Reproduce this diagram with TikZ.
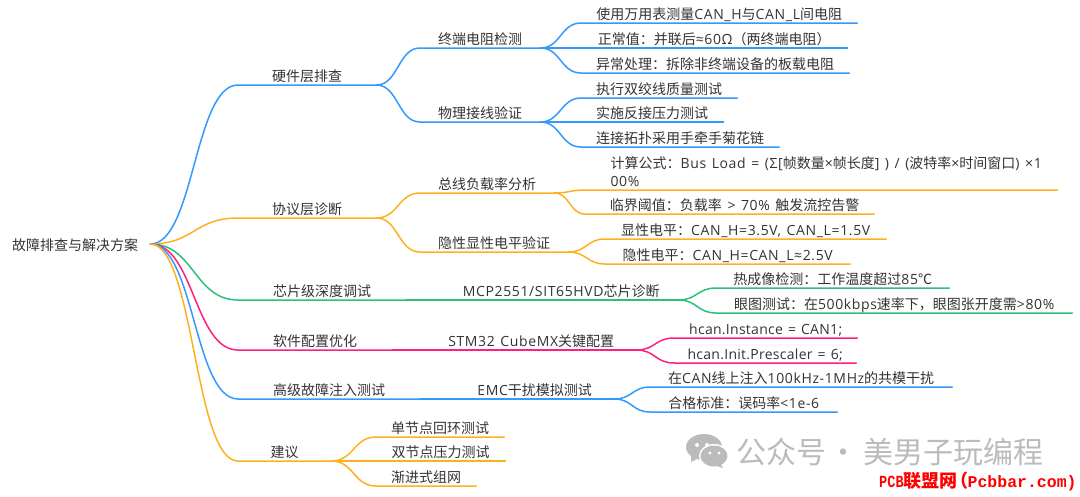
\documentclass[tikz,border=0pt]{standalone}
\usepackage{fontspec}
\setmainfont{Noto Sans CJK SC}
\newfontfamily\pcbfont{Liberation Mono}
\newfontfamily\pcbnarrow[FakeStretch=0.8]{Liberation Mono}
\newfontfamily\latinfont[LetterSpace=4.5,WordSpace=1.3]{Open Sans}
\newfontfamily\codefont[LetterSpace=2,WordSpace=1.3]{Open Sans}
\newcommand{\lat}[1]{{\latinfont #1}}
\usetikzlibrary{calc}
\definecolor{linkblue}{HTML}{3399FF}
\definecolor{linkorange}{HTML}{FFB020}
\definecolor{linkgreen}{HTML}{2CC07C}
\definecolor{linkpink}{HTML}{FF1F7D}
\definecolor{markgray}{HTML}{BBBBBB}
\tikzstyle{topic}=[anchor=south west,inner xsep=0pt,inner ysep=0pt,text depth=3.5pt,align=center,font=\fontsize{14}{17.5}\selectfont,text=black!80]
\tikzstyle{link}=[line width=1.5pt,line cap=round,to path={let \p1=(\tikztostart),\p2=(\tikztotarget) in .. controls (\x1/2+\x2/2,\y1) and (\x1/2+\x2/2,\y2) .. (\tikztotarget)}]

\begin{document}
\begin{tikzpicture}[x=1pt,y=-1pt]
        \useasboundingbox (0,0) rectangle (1080,496);
        \tikzset{blue/.style = {link,draw=linkblue}, orange/.style = {link,draw=linkorange},
                 green/.style = {link,draw=linkgreen}, pink/.style = {link,draw=linkpink}}
        \node[topic,anchor=west,text height=13pt,text depth=0pt,minimum width=150pt] (root) at (0,244) {故障排查与解决方案};
        % first level
        \node[topic,minimum width=138pt] (hard) at (238,85) {硬件层排查};
        \node[topic,minimum width=138pt] (proto) at (238,218) {协议层诊断};
        \node[topic,minimum width=168pt] (chip) at (238,300) {芯片级深度调试};
        \node[topic,minimum width=154pt] (soft) at (238,350) {软件配置优化};
        \node[topic,minimum width=182pt] (adv) at (238,399) {高级故障注入测试};
        \node[topic,minimum width=93pt] (adv2) at (238,461) {建议};
        % second level
        \node[topic,minimum width=120pt] (term) at (420,48) {终端电阻检测};
        \node[topic,minimum width=120pt] (wire) at (420,122) {物理接线验证};
        \node[topic,minimum width=134pt] (load) at (420,193) {总线负载率分析};
        \node[topic,minimum width=148pt] (level) at (420,252) {隐性显性电平验证};
        \node[topic,minimum width=234pt] (mcp) at (444,300) {\lat{MCP2551/SIT65HVD}芯片诊断};
        \node[topic,minimum width=210pt] (stm) at (426,350) {\lat{STM32 CubeMX}关键配置};
        \node[topic,minimum width=159pt] (emc) at (455,399) {\lat{EMC}干扰模拟测试};
        \node[topic,minimum width=128pt] (single) at (376,437) {单节点回环测试};
        \node[topic,minimum width=129pt] (dual) at (376,461) {双节点压力测试};
        \node[topic,minimum width=100pt] (grad) at (376,486) {渐进式组网};
        % leaves
        \node[topic,minimum width=276pt] (meter) at (581,23) {使用万用表测量\lat{CAN\_H}与\lat{CAN\_L}间电阻};
        \node[topic,minimum width=266pt] (normal) at (581,48) {正常值：并联后\lat{≈60Ω}（两终端电阻）};
        \node[topic,minimum width=268pt] (abnormal) at (581,73) {异常处理：拆除非终端设备的板载电阻};
        \node[topic,minimum width=156pt] (twist) at (581,98) {执行双绞线质量测试};
        \node[topic,minimum width=142pt] (reverse) at (581,122) {实施反接压力测试};
        \node[topic,minimum width=198pt] (chain) at (581,147) {连接拓扑采用手牵手菊花链};
        \node[topic,minimum width=472pt,align=left] (calc) at (585,190) {\hspace*{10pt}计算公式：\lat{Bus Load = (Σ[}帧数量\lat{×}帧长度\lat{] ) / (}波特率\lat{×}时间窗口\lat{) ×1}\\\hspace*{10pt}\lat{00\%}};
        \node[topic,minimum width=289pt] (limit) at (585,214) {\hspace*{10pt}临界阈值：负载率\lat{ > 70\% }触发流控告警};
        \node[topic,minimum width=281pt] (dom) at (605,239) {显性电平：\lat{CAN\_H=3.5V, CAN\_L=1.5V}};
        \node[topic,minimum width=245pt] (rec) at (605,264) {隐性电平：\lat{CAN\_H=CAN\_L≈2.5V}};
        \node[topic,minimum width=233pt] (thermal) at (716,288) {热成像检测：工作温度超过\lat{85}℃};
        \node[topic,minimum width=356pt] (eye) at (716,313) {眼图测试：在\lat{500kbps}速率下，眼图张开度需\lat{>80\%}};
        \node[topic,minimum width=183pt] (inst) at (674,338) {{\codefont hcan.Instance = CAN1;}};
        \node[topic,minimum width=182pt] (presc) at (674,363) {{\codefont hcan.Init.Prescaler = 6;}};
        \node[topic,minimum width=302pt] (inject) at (650,387) {在\lat{CAN}线上注入\lat{100kHz-1MHz}的共模干扰};
        \node[topic,minimum width=187pt] (pass) at (650,412) {合格标准：误码率\lat{<1e-6}};
        % root links
        \draw[blue] (root.east) to (hard.south west) -- (hard.south east);
        \draw[orange] (root.east) to (proto.south west) -- (proto.south east);
        \draw[green] (root.east) to (chip.south west) -- (chip.south east);
        \draw[pink] (root.east) to (soft.south west) -- (soft.south east);
        \draw[blue] (root.east) to (adv.south west) -- (adv.south east);
        \draw[orange] (root.east) to (adv2.south west) -- (adv2.south east);
        % branch links
        \draw[blue] (hard.south east) to (term.south west) -- (term.south east);
        \draw[blue] (hard.south east) to (wire.south west) -- (wire.south east);
        \draw[orange] (proto.south east) to (load.south west) -- (load.south east);
        \draw[orange] (proto.south east) to (level.south west) -- (level.south east);
        \draw[green] (chip.south east) -- (mcp.south west) -- (mcp.south east);
        \draw[pink] (soft.south east) -- (stm.south west) -- (stm.south east);
        \draw[blue] (adv.south east) -- (emc.south west) -- (emc.south east);
        \draw[orange] (adv2.south east) to (single.south west) -- (single.south east);
        \draw[orange] (adv2.south east) to (dual.south west) -- (dual.south east);
        \draw[orange] (adv2.south east) to (grad.south west) -- (grad.south east);
        % leaf links
        \draw[blue] (term.south east) to (meter.south west) -- (meter.south east);
        \draw[blue] (term.south east) to (normal.south west) -- (normal.south east);
        \draw[blue] (term.south east) to (abnormal.south west) -- (abnormal.south east);
        \draw[blue] (wire.south east) to (twist.south west) -- (twist.south east);
        \draw[blue] (wire.south east) to (reverse.south west) -- (reverse.south east);
        \draw[blue] (wire.south east) to (chain.south west) -- (chain.south east);
        \draw[orange] (load.south east) to (calc.south west) -- (calc.south east);
        \draw[orange] (load.south east) to (limit.south west) -- (limit.south east);
        \draw[orange] (level.south east) to (dom.south west) -- (dom.south east);
        \draw[orange] (level.south east) to (rec.south west) -- (rec.south east);
        \draw[green] (mcp.south east) to (thermal.south west) -- (thermal.south east);
        \draw[green] (mcp.south east) to (eye.south west) -- (eye.south east);
        \draw[pink] (stm.south east) to (inst.south west) -- (inst.south east);
        \draw[pink] (stm.south east) to (presc.south west) -- (presc.south east);
        \draw[blue] (emc.south east) to (inject.south west) -- (inject.south east);
        \draw[blue] (emc.south east) to (pass.south west) -- (pass.south east);
        % watermark
        \fill[markgray] (704,447) ellipse (18pt and 13pt);
        \fill[markgray] (691,455) -- (691,462) -- (699,458) -- cycle;
        \fill[white] (714,456) ellipse (15pt and 12pt);
        \fill[markgray] (714,456) ellipse (13.5pt and 10.5pt);
        \fill[markgray] (720,463) -- (723,468) -- (714,465) -- cycle;
        \fill[white] (697,445) circle (2pt) (707,445) circle (2pt) (710,453) circle (1.6pt) (719,453) circle (1.6pt);
        \node[anchor=west,inner sep=0pt,font=\fontsize{30}{30}\selectfont,text=markgray] (mark) at (736,452) {公众号\hspace{2pt}·\hspace{5pt}美男子玩编程};
        \node[anchor=west,inner sep=0pt,font=\fontsize{18}{20}\selectfont\bfseries,text=red] (pcb) at (879,481) {{\fontsize{17}{20}\selectfont\pcbnarrow PCB}联盟网\hspace{-7pt}（\hspace{-1pt}{\fontsize{16.5}{20}\selectfont\pcbfont Pcbbar.com)}};
      \end{tikzpicture}
\end{document}
